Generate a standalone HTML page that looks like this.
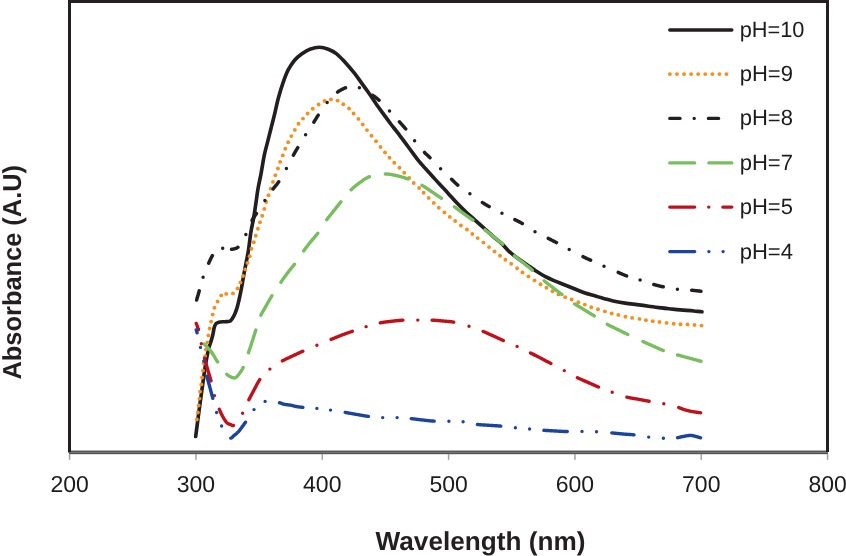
<!DOCTYPE html>
<html><head><meta charset="utf-8"><style>
html,body{margin:0;padding:0;background:#fff;}
svg{display:block;will-change:transform;}
text{text-rendering:geometricPrecision;}
.tk{font-family:"Liberation Sans",sans-serif;font-size:23px;fill:#1e1b1c;}
.lg{font-family:"Liberation Sans",sans-serif;font-size:22px;fill:#1e1b1c;}
.ax{font-family:"Liberation Sans",sans-serif;font-size:26px;font-weight:bold;fill:#231f20;}
</style></head><body>
<svg width="846" height="556" viewBox="0 0 846 556">
<rect width="846" height="556" fill="#fff"/>
<g>
<path d="M195.7,436.5 C196.3,431.8 198.2,416.6 199.4,408.0 C200.6,399.4 201.6,392.0 202.6,385.0 C203.6,378.0 204.3,372.0 205.3,366.0 C206.3,360.0 207.6,353.1 208.5,349.0 C209.4,344.9 210.2,344.1 210.9,341.7 C211.6,339.3 212.4,336.9 212.9,334.5 C213.4,332.1 213.7,329.4 214.2,327.6 C214.7,325.8 215.2,324.5 216.0,323.6 C216.8,322.7 217.7,322.6 218.8,322.3 C219.9,322.0 221.2,321.9 222.5,321.8 C223.8,321.7 225.5,321.8 226.8,321.6 C228.1,321.4 229.3,321.8 230.5,320.8 C231.7,319.8 232.8,317.8 233.9,315.8 C235.0,313.8 236.0,311.2 236.8,308.6 C237.7,306.0 238.2,303.4 239.0,300.0 C239.8,296.6 240.6,293.0 241.5,288.0 C242.4,283.0 243.5,276.3 244.7,270.0 C245.9,263.7 247.5,256.3 248.5,250.0 C249.5,243.7 250.0,237.4 250.9,232.0 C251.8,226.6 252.9,222.4 253.7,217.6 C254.5,212.8 255.2,208.0 255.9,203.2 C256.6,198.4 257.2,193.6 258.0,188.8 C258.8,184.0 259.8,180.1 260.9,174.4 C262.0,168.7 263.2,160.4 264.4,154.7 C265.6,149.0 266.8,145.2 268.0,140.4 C269.2,135.6 270.4,130.8 271.6,126.0 C272.8,121.2 274.1,116.3 275.2,111.6 C276.3,106.8 277.2,102.2 278.5,97.5 C279.8,92.8 281.3,87.7 282.9,83.1 C284.5,78.5 286.3,73.5 288.3,69.7 C290.3,65.9 292.5,62.7 294.8,60.0 C297.1,57.3 299.9,55.3 302.4,53.5 C304.9,51.7 307.1,50.2 309.9,49.2 C312.7,48.2 316.3,47.2 319.4,47.2 C322.5,47.2 325.5,48.1 328.3,49.2 C331.1,50.3 333.8,51.7 336.3,53.6 C338.8,55.5 340.5,57.3 343.5,60.6 C346.5,63.9 351.4,69.5 354.4,73.2 C357.4,77.0 359.2,79.8 361.6,83.1 C364.0,86.4 366.4,89.6 368.8,93.0 C371.2,96.4 373.6,100.3 376.0,103.7 C378.4,107.1 380.8,110.3 383.2,113.6 C385.6,116.9 388.0,120.3 390.4,123.5 C392.8,126.7 394.6,128.7 397.6,132.6 C400.6,136.5 404.7,142.2 408.3,147.0 C411.9,151.8 415.5,157.0 419.1,161.4 C422.7,165.8 426.6,169.8 429.9,173.5 C433.2,177.2 436.0,180.2 439.0,183.5 C442.0,186.8 445.0,189.9 448.0,193.2 C451.0,196.5 454.0,200.0 457.0,203.1 C460.0,206.2 463.0,209.2 466.0,212.0 C469.0,214.8 472.0,217.4 475.0,220.1 C478.0,222.8 481.0,225.5 484.0,228.2 C487.0,230.9 490.0,233.7 493.0,236.3 C496.0,238.9 499.3,241.3 502.0,243.8 C504.7,246.3 506.3,248.9 509.0,251.3 C511.7,253.8 515.0,256.3 518.0,258.5 C521.0,260.7 524.0,262.6 527.0,264.7 C530.0,266.8 533.0,269.1 536.0,271.0 C539.0,272.9 542.0,274.8 545.0,276.4 C548.0,278.0 551.0,279.3 554.0,280.6 C557.0,281.9 560.0,283.0 563.0,284.2 C566.0,285.4 568.4,286.3 571.8,287.7 C575.2,289.1 579.6,291.1 583.6,292.5 C587.6,293.9 592.1,295.0 595.5,296.0 C598.9,297.0 600.8,297.6 603.7,298.4 C606.7,299.2 609.7,300.2 613.2,301.0 C616.8,301.8 621.1,302.5 625.0,303.1 C628.9,303.7 632.8,304.1 636.8,304.6 C640.8,305.1 644.6,305.6 648.7,306.2 C652.8,306.8 657.7,307.4 661.6,307.9 C665.5,308.4 668.8,308.7 672.4,309.1 C676.0,309.5 679.6,309.8 683.2,310.1 C686.8,310.4 690.8,310.7 693.9,311.0 C697.0,311.3 700.6,311.7 702.0,311.8" fill="none" stroke="#231f20" stroke-width="3.65" stroke-linecap="round" stroke-linejoin="round"/>
<g fill="#f68e1e"><circle cx="196.80" cy="419.50" r="1.95"/><circle cx="197.80" cy="412.50" r="1.95"/><circle cx="198.65" cy="405.50" r="1.95"/><circle cx="199.45" cy="398.60" r="1.95"/><circle cx="200.10" cy="391.60" r="1.95"/><circle cx="201.30" cy="384.40" r="1.95"/><circle cx="202.10" cy="377.50" r="1.95"/><circle cx="203.00" cy="370.60" r="1.95"/><circle cx="203.70" cy="363.30" r="1.95"/><circle cx="205.10" cy="356.10" r="1.95"/><circle cx="205.90" cy="349.60" r="1.95"/><circle cx="207.35" cy="342.40" r="1.95"/><circle cx="208.40" cy="335.40" r="1.95"/><circle cx="209.65" cy="328.50" r="1.95"/><circle cx="211.10" cy="321.60" r="1.95"/><circle cx="212.70" cy="314.60" r="1.95"/><circle cx="214.40" cy="307.70" r="1.95"/><circle cx="217.60" cy="301.50" r="1.95"/><circle cx="221.20" cy="295.40" r="1.95"/><circle cx="226.20" cy="293.90" r="1.95"/><circle cx="232.90" cy="293.40" r="1.95"/><circle cx="237.55" cy="288.50" r="1.95"/><circle cx="240.45" cy="282.40" r="1.95"/><circle cx="243.05" cy="276.00" r="1.95"/><circle cx="245.25" cy="269.40" r="1.95"/><circle cx="247.50" cy="262.90" r="1.95"/><circle cx="249.70" cy="256.20" r="1.95"/><circle cx="251.45" cy="248.80" r="1.95"/><circle cx="253.75" cy="242.20" r="1.95"/><circle cx="255.75" cy="235.70" r="1.95"/><circle cx="257.90" cy="228.80" r="1.95"/><circle cx="260.00" cy="222.20" r="1.95"/><circle cx="262.20" cy="215.80" r="1.95"/><circle cx="264.30" cy="208.90" r="1.95"/><circle cx="266.20" cy="202.00" r="1.95"/><circle cx="268.50" cy="195.20" r="1.95"/><circle cx="270.60" cy="188.60" r="1.95"/><circle cx="273.00" cy="181.90" r="1.95"/><circle cx="275.30" cy="175.20" r="1.95"/><circle cx="277.90" cy="168.50" r="1.95"/><circle cx="280.10" cy="161.90" r="1.95"/><circle cx="282.80" cy="155.40" r="1.95"/><circle cx="285.30" cy="148.70" r="1.95"/><circle cx="288.20" cy="142.30" r="1.95"/><circle cx="291.30" cy="136.10" r="1.95"/><circle cx="294.80" cy="129.90" r="1.95"/><circle cx="298.50" cy="123.80" r="1.95"/><circle cx="303.00" cy="118.60" r="1.95"/><circle cx="307.60" cy="113.50" r="1.95"/><circle cx="312.80" cy="108.80" r="1.95"/><circle cx="318.60" cy="104.50" r="1.95"/><circle cx="324.60" cy="100.90" r="1.95"/><circle cx="330.90" cy="99.40" r="1.95"/><circle cx="337.60" cy="100.60" r="1.95"/><circle cx="343.30" cy="104.30" r="1.95"/><circle cx="349.00" cy="108.50" r="1.95"/><circle cx="353.60" cy="113.50" r="1.95"/><circle cx="358.40" cy="118.90" r="1.95"/><circle cx="362.70" cy="124.40" r="1.95"/><circle cx="367.00" cy="130.10" r="1.95"/><circle cx="371.50" cy="135.80" r="1.95"/><circle cx="376.00" cy="141.20" r="1.95"/><circle cx="380.50" cy="147.00" r="1.95"/><circle cx="385.00" cy="152.40" r="1.95"/><circle cx="389.50" cy="157.80" r="1.95"/><circle cx="394.30" cy="162.80" r="1.95"/><circle cx="399.40" cy="167.70" r="1.95"/><circle cx="404.20" cy="172.70" r="1.95"/><circle cx="409.20" cy="177.90" r="1.95"/><circle cx="413.70" cy="183.00" r="1.95"/><circle cx="419.10" cy="188.00" r="1.95"/><circle cx="423.60" cy="192.80" r="1.95"/><circle cx="428.70" cy="197.90" r="1.95"/><circle cx="433.80" cy="202.90" r="1.95"/><circle cx="438.80" cy="207.70" r="1.95"/><circle cx="444.40" cy="212.40" r="1.95"/><circle cx="449.80" cy="216.90" r="1.95"/><circle cx="455.20" cy="221.00" r="1.95"/><circle cx="460.90" cy="225.50" r="1.95"/><circle cx="466.90" cy="229.50" r="1.95"/><circle cx="472.30" cy="234.00" r="1.95"/><circle cx="477.70" cy="238.10" r="1.95"/><circle cx="483.40" cy="242.60" r="1.95"/><circle cx="489.00" cy="247.10" r="1.95"/><circle cx="494.50" cy="251.50" r="1.95"/><circle cx="500.00" cy="255.80" r="1.95"/><circle cx="505.40" cy="259.70" r="1.95"/><circle cx="511.20" cy="263.80" r="1.95"/><circle cx="517.10" cy="268.30" r="1.95"/><circle cx="522.50" cy="272.50" r="1.95"/><circle cx="528.40" cy="276.40" r="1.95"/><circle cx="534.50" cy="280.40" r="1.95"/><circle cx="540.50" cy="284.20" r="1.95"/><circle cx="546.40" cy="287.80" r="1.95"/><circle cx="552.50" cy="291.20" r="1.95"/><circle cx="558.50" cy="294.40" r="1.95"/><circle cx="565.20" cy="297.15" r="1.95"/><circle cx="571.60" cy="299.50" r="1.95"/><circle cx="578.30" cy="302.20" r="1.95"/><circle cx="584.80" cy="304.60" r="1.95"/><circle cx="591.30" cy="307.20" r="1.95"/><circle cx="598.00" cy="309.20" r="1.95"/><circle cx="604.90" cy="311.40" r="1.95"/><circle cx="611.70" cy="313.50" r="1.95"/><circle cx="618.30" cy="314.90" r="1.95"/><circle cx="625.40" cy="316.70" r="1.95"/><circle cx="632.10" cy="317.90" r="1.95"/><circle cx="639.50" cy="318.90" r="1.95"/><circle cx="645.90" cy="320.15" r="1.95"/><circle cx="652.75" cy="321.15" r="1.95"/><circle cx="659.50" cy="322.05" r="1.95"/><circle cx="666.60" cy="322.90" r="1.95"/><circle cx="673.70" cy="323.70" r="1.95"/><circle cx="680.50" cy="324.20" r="1.95"/><circle cx="687.50" cy="324.40" r="1.95"/><circle cx="694.50" cy="325.00" r="1.95"/><circle cx="701.50" cy="325.60" r="1.95"/></g>
<path d="M196.64,299.97 L196.67,299.88 L196.79,299.47 L196.91,299.03 L197.04,298.57 L197.18,298.09 L197.33,297.59 L197.47,297.08 L197.62,296.56 L197.78,296.02 L197.94,295.47 L198.10,294.92 L198.26,294.36 L198.42,293.80 L198.58,293.24 L198.74,292.68 L198.89,292.13 L199.05,291.58 L199.20,291.04 L199.24,290.92 M203.09,277.13 l0.01,0 M208.69,263.20 L208.82,262.90 L209.03,262.44 L209.23,261.98 L209.44,261.53 L209.64,261.08 L209.85,260.63 L210.05,260.19 L210.26,259.76 L210.46,259.33 L210.66,258.91 L210.87,258.49 L211.07,258.09 L211.27,257.69 L211.47,257.30 L211.68,256.93 L211.88,256.56 L212.08,256.20 L212.29,255.86 L212.39,255.69 M222.69,248.31 l0.01,0 M231.59,249.25 L231.94,249.21 L232.30,249.17 L232.67,249.12 L233.04,249.07 L233.41,249.01 L233.78,248.94 L234.15,248.86 L234.53,248.77 L234.90,248.67 L235.27,248.56 L235.64,248.43 L236.01,248.29 L236.37,248.13 L236.73,247.96 L237.09,247.77 L237.45,247.56 L237.79,247.33 L237.91,247.24 M245.84,234.42 l0.01,0 M252.01,220.45 L252.10,220.28 L252.33,219.87 L252.56,219.47 L252.79,219.08 L253.02,218.69 L253.25,218.32 L253.48,217.95 L253.71,217.59 L253.94,217.23 L254.17,216.87 L254.41,216.51 L254.65,216.16 L254.88,215.80 L255.13,215.44 L255.37,215.07 L255.62,214.70 L255.87,214.33 L256.13,213.94 L256.39,213.55 L256.49,213.39 M264.88,200.59 l0.01,0 M273.10,189.00 L273.11,188.98 L273.42,188.58 L273.72,188.19 L274.02,187.80 L274.32,187.42 L274.62,187.05 L274.92,186.68 L275.22,186.31 L275.52,185.94 L275.81,185.58 L276.11,185.21 L276.40,184.85 L276.69,184.48 L276.99,184.11 L277.28,183.73 L277.57,183.35 L277.86,182.97 L278.15,182.58 L278.44,182.18 L278.71,181.80 M286.40,168.60 l0.01,0 M293.43,155.11 L293.48,155.01 L293.72,154.58 L293.96,154.15 L294.20,153.73 L294.43,153.31 L294.67,152.89 L294.91,152.48 L295.14,152.06 L295.38,151.65 L295.62,151.24 L295.86,150.82 L296.10,150.41 L296.34,149.99 L296.59,149.57 L296.84,149.15 L297.09,148.72 L297.34,148.29 L297.60,147.85 L297.74,147.62 M305.60,134.70 l0.01,0 M313.84,122.13 L313.91,122.03 L314.16,121.63 L314.41,121.23 L314.65,120.84 L314.89,120.45 L315.13,120.06 L315.36,119.68 L315.59,119.30 L315.83,118.93 L316.06,118.55 L316.29,118.17 L316.52,117.80 L316.75,117.42 L316.99,117.04 L317.23,116.65 L317.48,116.26 L317.73,115.87 L317.99,115.47 L318.24,115.09 M327.16,102.57 l0.01,0 M337.57,92.08 L337.84,91.89 L338.26,91.59 L338.69,91.31 L339.12,91.03 L339.56,90.76 L340.00,90.50 L340.44,90.24 L340.88,89.99 L341.32,89.75 L341.76,89.51 L342.19,89.28 L342.62,89.07 L343.05,88.85 L343.47,88.65 L343.88,88.45 L344.29,88.26 L344.68,88.08 L345.07,87.91 L345.45,87.74 L345.51,87.72 M359.38,87.64 l0.01,0 M372.61,95.24 L372.78,95.35 L373.19,95.63 L373.58,95.91 L373.98,96.18 L374.36,96.46 L374.74,96.73 L375.11,97.01 L375.48,97.28 L375.84,97.56 L376.20,97.84 L376.56,98.12 L376.91,98.40 L377.27,98.69 L377.62,98.98 L377.97,99.27 L378.32,99.57 L378.68,99.88 L379.04,100.19 L379.06,100.20 M389.50,111.00 l0.01,0 M399.37,121.76 L399.55,121.96 L399.89,122.34 L400.23,122.71 L400.57,123.08 L400.90,123.45 L401.24,123.82 L401.57,124.19 L401.90,124.56 L402.23,124.92 L402.56,125.29 L402.88,125.65 L403.21,126.02 L403.54,126.39 L403.86,126.77 L404.19,127.14 L404.52,127.52 L404.84,127.91 L405.17,128.29 L405.50,128.69 L405.68,128.89 M414.60,140.70 l0.01,0 M424.49,152.45 L424.57,152.54 L424.88,152.85 L425.18,153.15 L425.47,153.45 L425.76,153.73 L426.04,154.00 L426.33,154.27 L426.61,154.53 L426.88,154.79 L427.16,155.05 L427.44,155.31 L427.72,155.56 L428.00,155.82 L428.29,156.09 L428.58,156.35 L428.87,156.63 L429.17,156.91 L429.48,157.20 L429.80,157.51 L429.98,157.68 M440.60,168.70 l0.01,0 M451.64,179.30 L451.80,179.46 L452.14,179.80 L452.48,180.13 L452.81,180.46 L453.13,180.78 L453.45,181.10 L453.77,181.41 L454.08,181.72 L454.39,182.03 L454.70,182.34 L455.01,182.64 L455.32,182.94 L455.64,183.24 L455.96,183.54 L456.28,183.85 L456.62,184.15 L456.95,184.45 L457.30,184.75 L457.66,185.06 L457.80,185.18 M469.90,193.70 l0.01,0 M482.39,202.51 L482.52,202.60 L482.91,202.85 L483.29,203.09 L483.66,203.33 L484.02,203.55 L484.38,203.78 L484.74,204.00 L485.09,204.21 L485.44,204.42 L485.79,204.63 L486.14,204.84 L486.49,205.04 L486.84,205.25 L487.20,205.46 L487.56,205.66 L487.92,205.87 L488.30,206.08 L488.68,206.30 L489.07,206.51 L489.16,206.57 M501.94,213.22 l0.01,0 M514.84,219.63 L514.91,219.66 L515.34,219.87 L515.75,220.08 L516.16,220.29 L516.57,220.49 L516.97,220.69 L517.37,220.89 L517.77,221.09 L518.17,221.29 L518.56,221.49 L518.96,221.69 L519.35,221.89 L519.75,222.10 L520.15,222.31 L520.55,222.53 L520.95,222.75 L521.36,222.97 L521.78,223.20 L522.20,223.44 L522.33,223.52 M535.00,231.80 l0.01,0 M548.26,238.39 L548.48,238.50 L548.93,238.72 L549.37,238.95 L549.81,239.17 L550.25,239.39 L550.68,239.61 L551.11,239.83 L551.53,240.05 L551.96,240.26 L552.38,240.48 L552.80,240.70 L553.23,240.92 L553.65,241.14 L554.08,241.36 L554.51,241.58 L554.94,241.80 L555.37,242.03 L555.80,242.25 L556.25,242.49 L556.45,242.59 M569.20,249.50 l0.01,0 M582.97,256.67 L583.15,256.76 L583.58,256.97 L584.00,257.17 L584.41,257.37 L584.81,257.56 L585.21,257.74 L585.60,257.93 L585.99,258.11 L586.38,258.29 L586.77,258.46 L587.15,258.64 L587.54,258.81 L587.93,258.99 L588.32,259.17 L588.72,259.35 L589.12,259.53 L589.53,259.71 L589.94,259.90 L590.37,260.09 L590.56,260.18 M604.00,266.30 l0.01,0 M618.20,272.41 L618.45,272.51 L618.91,272.71 L619.37,272.91 L619.82,273.10 L620.27,273.30 L620.71,273.49 L621.15,273.67 L621.58,273.86 L622.01,274.04 L622.44,274.23 L622.87,274.41 L623.31,274.58 L623.74,274.76 L624.17,274.94 L624.61,275.11 L625.05,275.28 L625.49,275.46 L625.94,275.63 L626.39,275.80 L626.58,275.86 M640.10,279.90 l0.01,0 M653.85,284.56 L654.11,284.63 L654.61,284.77 L655.10,284.91 L655.59,285.04 L656.08,285.17 L656.57,285.30 L657.06,285.43 L657.55,285.55 L658.04,285.67 L658.53,285.79 L659.01,285.90 L659.50,286.02 L659.99,286.13 L660.48,286.24 L660.97,286.35 L661.47,286.46 L661.97,286.57 L662.47,286.68 L662.97,286.79 L663.23,286.84 M677.40,289.20 l0.01,0 M691.69,290.22 L692.01,290.25 L692.57,290.31 L693.14,290.37 L693.71,290.43 L694.28,290.49 L694.86,290.55 L695.43,290.62 L696.00,290.68 L696.56,290.74 L697.11,290.81 L697.65,290.87 L698.18,290.93 L698.69,290.99 L699.19,291.05 L699.66,291.10 L700.11,291.16 L700.53,291.21 L700.91,291.25" fill="none" stroke="#231f20" stroke-width="3.5" stroke-linecap="round" stroke-linejoin="round"/>
<path d="M204.11,344.02 L204.29,344.20 L204.57,344.47 L204.86,344.76 L205.17,345.06 L205.50,345.38 L205.83,345.71 L206.18,346.06 L206.53,346.41 L206.89,346.78 L207.26,347.15 L207.62,347.54 L207.99,347.93 L208.36,348.32 L208.73,348.73 L209.09,349.13 L209.45,349.54 L209.80,349.96 L210.15,350.37 L210.48,350.78 L210.80,351.20 L211.11,351.62 L211.43,352.06 L211.74,352.51 L212.05,352.97 L212.37,353.44 L212.68,353.92 L212.99,354.42 L213.30,354.91 L213.62,355.42 L213.93,355.93 L214.24,356.44 L214.55,356.96 L214.86,357.48 L215.17,358.00 L215.48,358.52 L215.80,359.04 L216.11,359.56 L216.42,360.07 L216.73,360.58 L217.05,361.08 L217.36,361.57 L217.58,361.92 M226.81,374.23 L226.94,374.35 L227.19,374.57 L227.43,374.78 L227.67,374.98 L227.90,375.17 L228.13,375.35 L228.36,375.51 L228.59,375.67 L228.81,375.81 L229.02,375.95 L229.24,376.08 L229.45,376.20 L229.66,376.32 L229.87,376.43 L230.08,376.53 L230.28,376.64 L230.49,376.73 L230.69,376.83 L230.90,376.92 L231.10,377.01 L231.30,377.10 L231.50,377.19 L231.70,377.27 L231.89,377.36 L232.08,377.44 L232.27,377.51 L232.45,377.58 L232.63,377.65 L232.81,377.71 L232.99,377.76 L233.17,377.81 L233.34,377.85 L233.52,377.89 L233.69,377.91 L233.86,377.93 L234.04,377.95 L234.21,377.95 L234.38,377.94 L234.55,377.93 L234.72,377.90 L234.90,377.86 L235.07,377.81 L235.25,377.75 L235.42,377.68 L235.60,377.60 L235.78,377.50 L235.96,377.39 L236.14,377.27 L236.32,377.13 L236.50,376.98 L236.69,376.81 L236.87,376.64 L237.05,376.46 L237.23,376.26 L237.42,376.06 L237.60,375.85 L237.78,375.64 L237.96,375.42 L238.14,375.19 L238.32,374.96 L238.50,374.72 L238.68,374.48 L238.86,374.24 L239.04,374.00 L239.21,373.76 L239.39,373.52 L239.56,373.28 L239.73,373.04 L239.90,372.80 L240.07,372.57 L240.23,372.34 L240.39,372.11 L240.55,371.89 L240.71,371.67 L240.87,371.44 L241.02,371.22 L241.18,370.99 L241.33,370.76 L241.48,370.53 L241.64,370.29 L241.79,370.05 L241.94,369.80 L242.09,369.54 L242.25,369.27 L242.40,369.00 L242.56,368.71 L242.71,368.41 L242.87,368.09 L243.03,367.77 L243.17,367.49 M248.48,352.69 L248.54,352.50 L248.71,352.01 L248.87,351.52 L249.03,351.04 L249.19,350.56 L249.35,350.08 L249.51,349.61 L249.67,349.14 L249.82,348.67 L249.98,348.20 L250.13,347.73 L250.28,347.26 L250.44,346.80 L250.59,346.33 L250.74,345.86 L250.90,345.39 L251.05,344.91 L251.21,344.44 L251.36,343.96 L251.52,343.48 L251.68,342.99 L251.84,342.50 L252.00,342.00 L252.16,341.50 L252.33,340.99 L252.49,340.49 L252.65,339.98 L252.82,339.46 L252.98,338.95 L253.15,338.43 L253.31,337.91 L253.48,337.39 L253.64,336.87 L253.81,336.35 L253.98,335.82 L254.14,335.30 L254.31,334.77 L254.48,334.25 L254.64,333.72 L254.81,333.19 L254.98,332.66 L255.15,332.13 L255.32,331.61 L255.49,331.08 L255.66,330.55 L255.82,330.04 M260.84,315.37 L260.84,315.36 L261.07,314.89 L261.29,314.43 L261.52,313.97 L261.76,313.52 L261.99,313.07 L262.23,312.62 L262.47,312.18 L262.72,311.73 L262.96,311.29 L263.21,310.86 L263.46,310.42 L263.71,309.98 L263.96,309.54 L264.22,309.11 L264.47,308.67 L264.73,308.23 L264.98,307.79 L265.24,307.35 L265.49,306.90 L265.75,306.45 L266.00,306.00 L266.25,305.55 L266.51,305.09 L266.76,304.64 L267.02,304.19 L267.27,303.73 L267.53,303.28 L267.78,302.83 L268.04,302.37 L268.29,301.92 L268.55,301.47 L268.81,301.01 L269.07,300.56 L269.34,300.10 L269.60,299.64 L269.87,299.19 L270.14,298.73 L270.41,298.27 L270.69,297.80 L270.96,297.34 L271.25,296.88 L271.53,296.41 L271.82,295.94 L271.95,295.73 M280.94,282.23 L281.13,281.94 L281.44,281.50 L281.74,281.05 L282.05,280.61 L282.35,280.18 L282.65,279.74 L282.95,279.31 L283.25,278.88 L283.55,278.46 L283.85,278.03 L284.15,277.61 L284.45,277.19 L284.75,276.76 L285.05,276.34 L285.35,275.93 L285.65,275.51 L285.96,275.09 L286.26,274.67 L286.57,274.25 L286.88,273.84 L287.19,273.42 L287.50,273.00 L287.82,272.58 L288.13,272.17 L288.45,271.76 L288.77,271.35 L289.10,270.95 L289.42,270.55 L289.74,270.15 L290.07,269.75 L290.40,269.35 L290.72,268.95 L291.05,268.55 L291.38,268.16 L291.71,267.76 L292.04,267.36 L292.37,266.96 L292.70,266.55 L293.02,266.15 L293.35,265.74 L293.68,265.32 L294.01,264.91 L294.33,264.49 L294.52,264.24 M303.66,250.95 L303.85,250.69 L304.16,250.26 L304.47,249.83 L304.79,249.41 L305.10,248.99 L305.41,248.57 L305.73,248.15 L306.04,247.74 L306.35,247.32 L306.67,246.91 L306.98,246.50 L307.30,246.09 L307.61,245.68 L307.93,245.27 L308.25,244.87 L308.56,244.46 L308.88,244.05 L309.20,243.64 L309.53,243.23 L309.85,242.82 L310.17,242.41 L310.50,242.00 L310.83,241.59 L311.16,241.18 L311.49,240.78 L311.83,240.37 L312.17,239.97 L312.51,239.58 L312.85,239.18 L313.19,238.78 L313.53,238.39 L313.87,237.99 L314.22,237.59 L314.56,237.19 L314.91,236.79 L315.25,236.39 L315.59,235.99 L315.93,235.59 L316.27,235.18 L316.61,234.76 L316.95,234.35 L317.28,233.93 L317.62,233.50 L317.82,233.24 M326.76,219.65 L326.97,219.36 L327.30,218.92 L327.63,218.48 L327.96,218.04 L328.30,217.61 L328.63,217.18 L328.97,216.75 L329.31,216.33 L329.64,215.90 L329.98,215.48 L330.32,215.06 L330.66,214.64 L331.00,214.22 L331.33,213.81 L331.67,213.39 L332.01,212.98 L332.34,212.56 L332.68,212.15 L333.01,211.74 L333.34,211.32 L333.67,210.91 L334.00,210.50 L334.33,210.09 L334.65,209.68 L334.97,209.28 L335.29,208.87 L335.61,208.47 L335.92,208.08 L336.24,207.68 L336.55,207.29 L336.87,206.89 L337.18,206.50 L337.49,206.11 L337.81,205.71 L338.12,205.32 L338.44,204.93 L338.75,204.53 L339.07,204.14 L339.39,203.74 L339.71,203.34 L340.04,202.94 L340.36,202.54 L340.69,202.13 L340.88,201.91 M351.12,189.79 L351.17,189.74 L351.55,189.37 L351.94,189.00 L352.33,188.64 L352.73,188.28 L353.12,187.93 L353.52,187.58 L353.92,187.24 L354.32,186.90 L354.72,186.56 L355.12,186.22 L355.52,185.90 L355.93,185.57 L356.33,185.25 L356.74,184.93 L357.14,184.61 L357.55,184.30 L357.96,183.99 L358.37,183.69 L358.77,183.39 L359.18,183.09 L359.59,182.79 L360.00,182.50 L360.41,182.21 L360.81,181.92 L361.20,181.63 L361.60,181.34 L361.99,181.06 L362.38,180.78 L362.77,180.50 L363.16,180.22 L363.54,179.95 L363.94,179.68 L364.33,179.42 L364.73,179.16 L365.12,178.90 L365.53,178.65 L365.94,178.41 L366.36,178.17 L366.78,177.93 L367.21,177.71 L367.65,177.49 L368.10,177.27 L368.56,177.07 L369.03,176.87 L369.47,176.70 M385.30,173.98 L385.59,173.98 L386.10,173.99 L386.61,174.01 L387.11,174.04 L387.61,174.07 L388.10,174.11 L388.59,174.16 L389.08,174.22 L389.57,174.28 L390.05,174.35 L390.53,174.42 L391.02,174.50 L391.50,174.59 L391.99,174.67 L392.47,174.77 L392.96,174.86 L393.46,174.96 L393.95,175.06 L394.46,175.17 L394.96,175.28 L395.48,175.39 L396.00,175.50 L396.53,175.62 L397.06,175.74 L397.60,175.86 L398.15,175.99 L398.70,176.13 L399.25,176.27 L399.81,176.42 L400.37,176.57 L400.93,176.73 L401.49,176.88 L402.05,177.05 L402.62,177.21 L403.18,177.38 L403.75,177.55 L404.31,177.73 L404.87,177.91 L405.42,178.09 L405.98,178.27 L406.53,178.45 L407.07,178.64 L407.61,178.83 L407.98,178.96 M422.04,185.33 L422.16,185.39 L422.56,185.63 L422.95,185.86 L423.34,186.09 L423.72,186.32 L424.09,186.56 L424.46,186.79 L424.83,187.03 L425.19,187.27 L425.56,187.51 L425.92,187.75 L426.28,187.99 L426.64,188.23 L427.00,188.47 L427.36,188.72 L427.72,188.97 L428.09,189.22 L428.46,189.47 L428.84,189.72 L429.22,189.98 L429.61,190.24 L430.00,190.50 L430.40,190.76 L430.79,191.03 L431.18,191.29 L431.58,191.55 L431.97,191.82 L432.36,192.08 L432.75,192.35 L433.14,192.62 L433.53,192.89 L433.93,193.16 L434.33,193.44 L434.73,193.71 L435.14,193.99 L435.55,194.27 L435.96,194.56 L436.38,194.85 L436.81,195.14 L437.24,195.44 L437.68,195.74 L438.13,196.04 L438.58,196.35 L439.04,196.66 L439.52,196.98 L440.00,197.30 L440.50,197.63 L441.01,197.97 L441.42,198.24 M454.47,206.84 L454.82,207.09 L455.27,207.41 L455.71,207.73 L456.15,208.05 L456.58,208.36 L457.00,208.67 L457.41,208.97 L457.82,209.28 L458.23,209.58 L458.63,209.88 L459.03,210.18 L459.43,210.48 L459.83,210.78 L460.23,211.08 L460.62,211.38 L461.02,211.68 L461.43,211.98 L461.83,212.28 L462.24,212.58 L462.65,212.88 L463.07,213.19 L463.50,213.50 L463.93,213.81 L464.36,214.12 L464.80,214.43 L465.23,214.74 L465.67,215.05 L466.11,215.35 L466.55,215.66 L466.99,215.97 L467.43,216.28 L467.87,216.59 L468.31,216.90 L468.76,217.21 L469.20,217.52 L469.64,217.83 L470.08,218.14 L470.52,218.45 L470.96,218.77 L471.40,219.08 L471.84,219.40 L472.27,219.71 L472.71,220.03 L472.96,220.22 M485.01,229.91 L485.21,230.07 L485.60,230.39 L486.00,230.70 L486.39,231.02 L486.79,231.33 L487.18,231.64 L487.57,231.96 L487.96,232.27 L488.35,232.58 L488.74,232.89 L489.13,233.20 L489.52,233.51 L489.91,233.82 L490.30,234.13 L490.69,234.45 L491.09,234.76 L491.48,235.08 L491.88,235.40 L492.28,235.72 L492.69,236.04 L493.09,236.37 L493.50,236.70 L493.91,237.03 L494.33,237.36 L494.74,237.69 L495.16,238.02 L495.59,238.36 L496.01,238.69 L496.44,239.02 L496.86,239.36 L497.29,239.69 L497.72,240.03 L498.15,240.37 L498.58,240.71 L499.01,241.05 L499.44,241.39 L499.87,241.74 L500.30,242.09 L500.73,242.44 L501.16,242.80 L501.59,243.15 L502.02,243.52 L502.44,243.88 L502.73,244.13 M514.47,255.76 L514.74,256.00 L515.16,256.36 L515.57,256.71 L515.99,257.05 L516.41,257.40 L516.83,257.74 L517.24,258.07 L517.66,258.41 L518.08,258.74 L518.50,259.07 L518.92,259.40 L519.34,259.72 L519.76,260.05 L520.17,260.37 L520.59,260.70 L521.01,261.02 L521.43,261.35 L521.84,261.68 L522.26,262.00 L522.67,262.33 L523.09,262.67 L523.50,263.00 L523.91,263.33 L524.32,263.67 L524.73,264.00 L525.14,264.33 L525.55,264.66 L525.96,264.98 L526.37,265.31 L526.78,265.64 L527.19,265.96 L527.59,266.29 L528.00,266.62 L528.41,266.94 L528.81,267.27 L529.22,267.60 L529.63,267.93 L530.03,268.26 L530.44,268.60 L530.85,268.93 L531.26,269.27 L531.66,269.61 L532.07,269.95 L532.31,270.16 M544.20,280.83 L544.43,281.03 L544.84,281.36 L545.24,281.69 L545.65,282.02 L546.06,282.34 L546.47,282.67 L546.87,282.99 L547.28,283.31 L547.69,283.62 L548.09,283.94 L548.50,284.25 L548.91,284.56 L549.31,284.88 L549.72,285.19 L550.13,285.50 L550.54,285.81 L550.95,286.12 L551.36,286.44 L551.77,286.75 L552.18,287.07 L552.59,287.38 L553.00,287.70 L553.41,288.02 L553.82,288.34 L554.24,288.65 L554.65,288.97 L555.06,289.28 L555.47,289.60 L555.88,289.91 L556.30,290.23 L556.71,290.54 L557.12,290.86 L557.54,291.17 L557.95,291.49 L558.36,291.80 L558.78,292.12 L559.20,292.43 L559.61,292.75 L560.03,293.06 L560.45,293.38 L560.87,293.70 L561.30,294.02 L561.72,294.34 L561.96,294.52 M574.68,303.93 L574.76,303.98 L575.13,304.23 L575.50,304.46 L575.86,304.70 L576.22,304.92 L576.58,305.14 L576.93,305.36 L577.28,305.57 L577.62,305.78 L577.96,305.99 L578.30,306.19 L578.64,306.39 L578.98,306.59 L579.31,306.79 L579.65,306.99 L579.98,307.18 L580.31,307.38 L580.65,307.58 L580.98,307.78 L581.32,307.99 L581.66,308.19 L582.00,308.40 L582.34,308.61 L582.69,308.82 L583.04,309.04 L583.39,309.25 L583.74,309.47 L584.09,309.68 L584.44,309.90 L584.79,310.11 L585.14,310.33 L585.49,310.54 L585.84,310.76 L586.19,310.97 L586.53,311.18 L586.87,311.39 L587.21,311.59 L587.54,311.80 L587.87,312.00 L588.19,312.19 L588.51,312.39 L588.82,312.58 L589.13,312.77 L589.43,312.95 L589.72,313.13 L590.00,313.30 L590.27,313.46 L590.52,313.62 L590.76,313.76 L590.99,313.90 L591.20,314.03 L591.41,314.15 L591.60,314.27 L591.79,314.38 L591.98,314.49 L592.16,314.60 L592.34,314.70 L592.52,314.81 L592.71,314.92 L592.90,315.04 L593.09,315.15 L593.30,315.28 L593.51,315.41 L593.73,315.55 L593.97,315.69 L594.22,315.85 L594.30,315.90 M607.33,324.34 L607.59,324.48 L608.05,324.73 L608.52,324.98 L608.99,325.23 L609.46,325.47 L609.93,325.71 L610.40,325.94 L610.87,326.18 L611.34,326.41 L611.81,326.64 L612.29,326.87 L612.76,327.10 L613.23,327.33 L613.71,327.56 L614.18,327.79 L614.66,328.01 L615.13,328.24 L615.61,328.47 L616.08,328.70 L616.55,328.93 L617.03,329.17 L617.50,329.40 L617.97,329.63 L618.44,329.87 L618.91,330.10 L619.38,330.33 L619.84,330.57 L620.31,330.80 L620.77,331.03 L621.24,331.26 L621.70,331.49 L622.17,331.72 L622.63,331.95 L623.10,332.18 L623.57,332.41 L624.04,332.64 L624.51,332.88 L624.99,333.11 L625.46,333.34 L625.94,333.57 L626.43,333.81 L626.91,334.04 L627.40,334.28 L627.73,334.44 M642.98,341.54 L643.28,341.67 L643.76,341.89 L644.24,342.11 L644.71,342.32 L645.18,342.53 L645.65,342.74 L646.11,342.95 L646.57,343.15 L647.03,343.36 L647.49,343.56 L647.94,343.77 L648.40,343.97 L648.85,344.17 L649.31,344.37 L649.76,344.57 L650.22,344.77 L650.68,344.98 L651.14,345.18 L651.60,345.38 L652.06,345.59 L652.53,345.79 L653.00,346.00 L653.47,346.21 L653.95,346.42 L654.42,346.63 L654.90,346.85 L655.37,347.07 L655.85,347.28 L656.32,347.50 L656.80,347.72 L657.28,347.94 L657.76,348.15 L658.23,348.37 L658.71,348.59 L659.19,348.80 L659.67,349.02 L660.15,349.23 L660.63,349.44 L661.11,349.64 L661.60,349.85 L662.08,350.05 L662.56,350.25 L663.05,350.44 L663.29,350.54 M677.55,354.96 L677.66,354.99 L678.09,355.11 L678.52,355.23 L678.95,355.35 L679.37,355.46 L679.78,355.57 L680.20,355.69 L680.61,355.80 L681.02,355.91 L681.44,356.02 L681.86,356.13 L682.28,356.24 L682.71,356.36 L683.14,356.47 L683.58,356.59 L684.03,356.71 L684.50,356.83 L684.97,356.96 L685.45,357.08 L685.95,357.22 L686.47,357.36 L687.00,357.50 L687.56,357.65 L688.16,357.81 L688.79,357.98 L689.45,358.16 L690.13,358.35 L690.84,358.54 L691.56,358.73 L692.30,358.93 L693.04,359.13 L693.78,359.33 L694.53,359.53 L695.27,359.73 L696.00,359.93 L696.72,360.12 L697.42,360.31 L698.09,360.49 L698.74,360.67 L699.36,360.84 L699.95,360.99 L700.49,361.14 L700.94,361.26" fill="none" stroke="#78be5f" stroke-width="3.4" stroke-linecap="round" stroke-linejoin="round"/>
<path d="M196.26,323.42 L196.35,323.66 L196.47,323.97 L196.60,324.30 L196.73,324.64 L196.86,325.00 L197.00,325.36 L197.14,325.74 L197.29,326.14 L197.43,326.54 L197.58,326.95 L197.73,327.37 L197.87,327.79 L198.01,328.23 L198.16,328.66 L198.29,329.11 L198.43,329.55 L198.46,329.65 M201.30,343.80 l0.01,0 M204.61,358.26 L204.69,358.55 L204.81,359.06 L204.94,359.56 L205.07,360.06 L205.20,360.56 L205.33,361.06 L205.46,361.55 L205.59,362.04 L205.72,362.53 L205.85,363.02 L205.98,363.51 L206.11,364.00 L206.25,364.49 L206.38,364.98 L206.52,365.47 L206.65,365.96 L206.79,366.46 L206.93,366.96 L207.07,367.47 L207.21,367.97 L207.36,368.48 L207.50,369.00 L207.65,369.52 L207.80,370.04 L207.95,370.56 L208.11,371.09 L208.26,371.61 L208.42,372.14 L208.58,372.67 L208.74,373.20 L208.91,373.74 L209.07,374.27 L209.24,374.81 L209.40,375.34 L209.56,375.88 L209.73,376.42 L209.89,376.96 L210.06,377.51 L210.22,378.05 L210.38,378.60 L210.54,379.14 L210.69,379.69 L210.85,380.24 L211.00,380.79 M214.50,395.60 l0.01,0 M219.32,409.29 L219.45,409.61 L219.60,409.98 L219.76,410.34 L219.91,410.70 L220.06,411.05 L220.21,411.39 L220.36,411.72 L220.51,412.05 L220.66,412.37 L220.80,412.68 L220.95,413.00 L221.10,413.30 L221.25,413.61 L221.40,413.91 L221.55,414.21 L221.71,414.51 L221.86,414.80 L222.02,415.10 L222.18,415.40 L222.34,415.70 L222.50,416.00 L222.67,416.30 L222.83,416.61 L223.00,416.92 L223.18,417.22 L223.35,417.53 L223.52,417.84 L223.70,418.14 L223.88,418.44 L224.06,418.75 L224.23,419.04 L224.41,419.34 L224.59,419.62 L224.77,419.91 L224.95,420.19 L225.13,420.46 L225.31,420.72 L225.49,420.98 L225.67,421.23 L225.84,421.47 L226.02,421.69 L226.19,421.91 L226.36,422.12 L226.53,422.32 L226.70,422.50 L226.87,422.67 L227.03,422.83 L227.19,422.98 L227.35,423.11 L227.51,423.24 L227.67,423.36 L227.83,423.47 L227.99,423.57 L228.14,423.66 L228.30,423.74 L228.45,423.82 L228.61,423.89 L228.76,423.96 L228.92,424.02 L229.07,424.08 L229.23,424.13 L229.38,424.18 L229.54,424.23 L229.70,424.28 L229.85,424.32 L230.01,424.37 L230.17,424.41 L230.34,424.45 L230.50,424.50 L230.66,424.55 L230.82,424.62 L230.97,424.69 L231.12,424.77 L231.27,424.86 L231.41,424.95 L231.56,425.04 L231.70,425.13 L231.84,425.22 L231.99,425.30 L232.14,425.38 L232.29,425.44 L232.44,425.50 L232.60,425.54 L232.76,425.56 L232.93,425.57 L233.11,425.55 L233.29,425.51 L233.49,425.45 L233.53,425.43 M242.60,413.20 l0.01,0 M248.88,399.73 L249.01,399.47 L249.24,399.01 L249.47,398.55 L249.71,398.09 L249.94,397.63 L250.17,397.18 L250.40,396.73 L250.63,396.28 L250.87,395.84 L251.10,395.39 L251.33,394.95 L251.57,394.51 L251.80,394.06 L252.04,393.62 L252.28,393.17 L252.52,392.73 L252.76,392.28 L253.00,391.83 L253.25,391.38 L253.50,390.92 L253.75,390.46 L254.00,390.00 L254.25,389.53 L254.50,389.06 L254.75,388.59 L255.00,388.11 L255.25,387.63 L255.50,387.14 L255.75,386.65 L256.00,386.17 L256.25,385.68 L256.50,385.19 L256.76,384.70 L257.02,384.21 L257.28,383.73 L257.55,383.24 L257.81,382.76 L258.09,382.28 L258.37,381.80 L258.65,381.33 L258.94,380.86 L259.24,380.40 L259.54,379.94 L259.74,379.65 M269.90,369.10 l0.01,0 M282.43,360.86 L282.71,360.71 L283.17,360.46 L283.64,360.21 L284.11,359.97 L284.57,359.74 L285.04,359.50 L285.50,359.27 L285.97,359.05 L286.43,358.83 L286.89,358.61 L287.36,358.39 L287.82,358.17 L288.29,357.96 L288.75,357.74 L289.22,357.53 L289.68,357.31 L290.15,357.10 L290.62,356.88 L291.09,356.66 L291.56,356.44 L292.03,356.22 L292.50,356.00 L292.97,355.78 L293.44,355.55 L293.91,355.33 L294.38,355.11 L294.85,354.88 L295.32,354.66 L295.79,354.44 L296.26,354.22 L296.73,354.00 L297.20,353.78 L297.67,353.56 L298.14,353.34 L298.62,353.12 L299.09,352.91 L299.57,352.69 L300.05,352.47 L300.53,352.25 L301.02,352.03 L301.51,351.81 L302.00,351.59 L302.49,351.37 L302.81,351.22 M316.90,345.30 l0.01,0 M331.10,339.41 L331.46,339.26 L331.97,339.05 L332.49,338.83 L333.00,338.62 L333.51,338.41 L334.02,338.20 L334.53,337.99 L335.03,337.78 L335.53,337.58 L336.04,337.37 L336.54,337.16 L337.04,336.96 L337.54,336.76 L338.04,336.56 L338.53,336.36 L339.03,336.16 L339.53,335.96 L340.02,335.76 L340.52,335.57 L341.01,335.38 L341.51,335.19 L342.00,335.00 L342.49,334.81 L342.98,334.63 L343.47,334.45 L343.95,334.27 L344.44,334.10 L344.92,333.92 L345.40,333.75 L345.87,333.58 L346.35,333.41 L346.83,333.24 L347.30,333.07 L347.78,332.91 L348.26,332.74 L348.74,332.57 L349.21,332.41 L349.69,332.24 L350.17,332.08 L350.66,331.91 L351.14,331.75 L351.63,331.58 L352.12,331.41 L352.37,331.32 M366.09,326.67 l0.01,0 M380.27,322.84 L380.59,322.78 L381.11,322.69 L381.63,322.60 L382.16,322.51 L382.68,322.43 L383.20,322.34 L383.72,322.27 L384.23,322.19 L384.75,322.12 L385.27,322.05 L385.79,321.98 L386.30,321.92 L386.82,321.85 L387.34,321.79 L387.85,321.73 L388.37,321.67 L388.89,321.60 L389.41,321.54 L389.93,321.48 L390.45,321.42 L390.98,321.36 L391.50,321.30 L392.02,321.24 L392.55,321.18 L393.07,321.11 L393.59,321.05 L394.12,320.99 L394.64,320.93 L395.16,320.87 L395.69,320.81 L396.21,320.75 L396.73,320.70 L397.26,320.64 L397.78,320.59 L398.31,320.54 L398.83,320.48 L399.36,320.44 L399.89,320.39 L400.42,320.34 L400.96,320.30 L401.49,320.26 L402.03,320.22 L402.57,320.19 L402.90,320.17 M417.80,320.10 l0.01,0 M432.10,320.15 L432.36,320.17 L432.88,320.19 L433.40,320.22 L433.91,320.25 L434.42,320.28 L434.93,320.31 L435.44,320.35 L435.95,320.39 L436.46,320.42 L436.96,320.46 L437.47,320.50 L437.97,320.54 L438.47,320.59 L438.98,320.63 L439.48,320.67 L439.98,320.72 L440.49,320.76 L440.99,320.81 L441.49,320.86 L441.99,320.90 L442.50,320.95 L443.00,321.00 L443.50,321.05 L444.00,321.09 L444.50,321.13 L444.99,321.18 L445.48,321.22 L445.97,321.26 L446.45,321.30 L446.94,321.34 L447.43,321.38 L447.91,321.42 L448.40,321.47 L448.89,321.51 L449.38,321.56 L449.87,321.61 L450.36,321.67 L450.86,321.73 L451.36,321.79 L451.86,321.86 L452.37,321.94 L452.89,322.02 L453.41,322.10 L453.72,322.16 M469.00,326.30 l0.01,0 M483.11,331.39 L483.37,331.50 L483.85,331.70 L484.32,331.90 L484.79,332.10 L485.26,332.30 L485.72,332.50 L486.18,332.70 L486.63,332.91 L487.09,333.11 L487.54,333.31 L487.99,333.52 L488.44,333.72 L488.89,333.93 L489.34,334.13 L489.79,334.34 L490.24,334.55 L490.69,334.75 L491.15,334.96 L491.61,335.17 L492.07,335.38 L492.53,335.59 L493.00,335.80 L493.47,336.01 L493.94,336.22 L494.41,336.43 L494.88,336.65 L495.35,336.86 L495.82,337.07 L496.29,337.29 L496.76,337.50 L497.23,337.72 L497.71,337.94 L498.18,338.15 L498.66,338.37 L499.13,338.59 L499.61,338.80 L500.09,339.02 L500.57,339.24 L501.05,339.46 L501.54,339.68 L502.03,339.90 L502.52,340.12 L503.01,340.34 L503.31,340.47 M517.10,346.40 l0.01,0 M530.56,352.98 L530.89,353.14 L531.38,353.39 L531.87,353.64 L532.36,353.88 L532.85,354.13 L533.34,354.38 L533.83,354.62 L534.31,354.87 L534.80,355.12 L535.28,355.36 L535.76,355.61 L536.24,355.85 L536.72,356.10 L537.20,356.34 L537.68,356.59 L538.16,356.83 L538.63,357.08 L539.11,357.32 L539.58,357.57 L540.06,357.81 L540.53,358.06 L541.00,358.30 L541.47,358.54 L541.93,358.78 L542.39,359.03 L542.85,359.26 L543.31,359.50 L543.76,359.74 L544.21,359.98 L544.66,360.21 L545.11,360.45 L545.56,360.69 L546.01,360.93 L546.46,361.16 L546.91,361.40 L547.35,361.64 L547.81,361.88 L548.26,362.12 L548.71,362.36 L549.17,362.60 L549.63,362.85 L550.10,363.09 L550.57,363.34 L550.85,363.49 M564.30,370.60 l0.01,0 M577.37,377.67 L577.86,377.90 L578.44,378.17 L579.02,378.45 L579.61,378.72 L580.21,378.99 L580.81,379.26 L581.42,379.53 L582.02,379.81 L582.63,380.08 L583.24,380.34 L583.84,380.61 L584.44,380.87 L585.04,381.13 L585.63,381.39 L586.22,381.65 L586.79,381.90 L587.36,382.14 L587.92,382.39 L588.46,382.62 L588.99,382.85 L589.50,383.08 L590.00,383.30 L590.48,383.51 L590.94,383.72 L591.39,383.92 L591.82,384.11 L592.24,384.30 L592.65,384.48 L593.04,384.66 L593.43,384.83 L593.81,385.00 L594.19,385.17 L594.56,385.33 L594.93,385.49 L595.30,385.66 L595.67,385.82 L596.04,385.98 L596.41,386.14 L596.79,386.30 L597.17,386.46 L597.57,386.63 L597.97,386.79 L598.38,386.96 L598.50,387.01 M612.20,392.20 l0.01,0 M626.86,397.12 L627.20,397.21 L627.72,397.33 L628.25,397.45 L628.77,397.56 L629.29,397.66 L629.81,397.77 L630.32,397.87 L630.84,397.96 L631.35,398.05 L631.86,398.14 L632.37,398.23 L632.88,398.32 L633.39,398.40 L633.90,398.49 L634.41,398.57 L634.92,398.66 L635.43,398.74 L635.94,398.83 L636.46,398.92 L636.97,399.01 L637.48,399.10 L638.00,399.20 L638.52,399.30 L639.03,399.40 L639.54,399.49 L640.06,399.59 L640.57,399.69 L641.08,399.78 L641.59,399.88 L642.10,399.98 L642.61,400.07 L643.12,400.17 L643.63,400.27 L644.14,400.36 L644.65,400.46 L645.16,400.55 L645.68,400.65 L646.19,400.74 L646.71,400.84 L647.23,400.93 L647.75,401.03 L648.28,401.12 L648.80,401.22 L649.12,401.27 M663.80,403.70 l0.01,0 M678.75,407.61 L679.01,407.70 L679.37,407.82 L679.71,407.93 L680.05,408.05 L680.37,408.17 L680.68,408.28 L680.98,408.39 L681.27,408.50 L681.56,408.61 L681.84,408.72 L682.11,408.83 L682.38,408.93 L682.66,409.03 L682.93,409.13 L683.20,409.23 L683.47,409.33 L683.74,409.43 L684.02,409.52 L684.31,409.62 L684.60,409.71 L684.90,409.80 L685.20,409.89 L685.50,409.97 L685.79,410.06 L686.07,410.14 L686.36,410.22 L686.64,410.29 L686.91,410.37 L687.19,410.44 L687.46,410.51 L687.74,410.58 L688.02,410.65 L688.29,410.72 L688.57,410.79 L688.86,410.85 L689.14,410.92 L689.43,410.98 L689.73,411.05 L690.03,411.11 L690.34,411.17 L690.65,411.24 L690.98,411.30 L691.31,411.37 L691.65,411.43 L692.00,411.50 L692.37,411.57 L692.76,411.64 L693.18,411.71 L693.61,411.78 L694.07,411.85 L694.53,411.92 L695.01,412.00 L695.49,412.07 L695.98,412.14 L696.47,412.22 L696.96,412.29 L697.44,412.36 L697.92,412.42 L698.40,412.49 L698.85,412.56 L699.30,412.62 L699.73,412.68 L700.14,412.74 L700.52,412.79 L700.71,412.82" fill="none" stroke="#c01019" stroke-width="3.4" stroke-linecap="round" stroke-linejoin="round"/>
<path d="M196.27,329.95 L196.28,329.98 L196.34,330.17 L196.40,330.36 L196.46,330.57 L196.52,330.79 L196.59,331.02 L196.65,331.26 L196.73,331.51 L196.80,331.78 L196.88,332.07 L196.96,332.37 L197.04,332.68 L197.08,332.84 M200.51,347.42 l0.01,0 M203.80,361.00 l0.01,0 M206.80,376.16 L206.88,376.50 L207.02,377.02 L207.15,377.53 L207.28,378.04 L207.42,378.55 L207.56,379.05 L207.69,379.55 L207.83,380.05 L207.97,380.54 L208.11,381.04 L208.25,381.53 L208.39,382.02 L208.54,382.51 L208.68,383.00 L208.82,383.50 L208.96,383.99 L209.10,384.48 L209.24,384.98 L209.38,385.48 L209.52,385.98 L209.66,386.49 L209.80,387.00 L209.94,387.51 L210.07,388.03 L210.21,388.54 L210.35,389.05 L210.48,389.57 L210.62,390.09 L210.76,390.60 L210.89,391.12 L211.03,391.64 L211.16,392.15 L211.30,392.67 L211.44,393.19 L211.57,393.71 L211.71,394.24 L211.85,394.76 L211.99,395.28 L212.12,395.81 L212.26,396.33 L212.40,396.86 L212.54,397.38 L212.68,397.91 L212.77,398.24 M216.60,412.50 l0.01,0 M221.60,426.00 l0.01,0 M230.78,438.08 L230.96,438.07 L231.15,438.04 L231.34,437.97 L231.52,437.88 L231.70,437.77 L231.87,437.64 L232.04,437.50 L232.20,437.34 L232.36,437.18 L232.52,437.00 L232.68,436.82 L232.84,436.64 L233.00,436.45 L233.16,436.27 L233.32,436.10 L233.48,435.93 L233.65,435.77 L233.82,435.63 L234.00,435.50 L234.18,435.38 L234.36,435.26 L234.54,435.13 L234.72,435.00 L234.89,434.87 L235.07,434.74 L235.25,434.60 L235.43,434.46 L235.61,434.32 L235.78,434.17 L235.96,434.02 L236.14,433.88 L236.31,433.72 L236.49,433.57 L236.66,433.41 L236.84,433.25 L237.01,433.09 L237.18,432.93 L237.35,432.76 L237.53,432.59 L237.70,432.42 L237.86,432.25 L238.03,432.08 L238.20,431.90 L238.37,431.72 L238.53,431.54 L238.69,431.36 L238.85,431.17 L239.01,430.98 L239.17,430.79 L239.33,430.60 L239.48,430.40 L239.64,430.20 L239.79,430.00 L239.95,429.80 L240.10,429.59 L240.25,429.39 L240.41,429.18 L240.56,428.97 L240.72,428.76 L240.87,428.54 L241.03,428.33 L241.19,428.11 L241.35,427.89 L241.51,427.67 L241.67,427.45 L241.83,427.22 L242.00,427.00 L242.16,426.78 L242.32,426.56 L242.48,426.35 L242.64,426.14 L242.79,425.93 L242.94,425.73 L243.09,425.52 L243.24,425.31 L243.39,425.11 L243.54,424.90 L243.69,424.68 L243.85,424.46 L244.01,424.24 L244.17,424.01 L244.34,423.77 L244.52,423.52 L244.70,423.26 L244.89,422.99 L245.08,422.71 L245.29,422.42 L245.46,422.17 M254.00,409.60 l0.01,0 M265.10,401.40 l0.01,0 M279.58,402.74 L279.69,402.77 L279.99,402.84 L280.26,402.92 L280.52,403.00 L280.76,403.08 L280.99,403.16 L281.22,403.24 L281.43,403.32 L281.63,403.41 L281.83,403.49 L282.03,403.57 L282.22,403.65 L282.41,403.73 L282.61,403.81 L282.81,403.89 L283.02,403.97 L283.23,404.04 L283.45,404.11 L283.69,404.18 L283.94,404.24 L284.20,404.30 L284.47,404.36 L284.76,404.41 L285.05,404.46 L285.34,404.51 L285.64,404.56 L285.95,404.60 L286.26,404.64 L286.57,404.69 L286.88,404.72 L287.19,404.76 L287.51,404.80 L287.83,404.84 L288.14,404.87 L288.45,404.91 L288.76,404.95 L289.07,404.98 L289.37,405.02 L289.67,405.05 L289.96,405.09 L290.24,405.13 L290.52,405.17 L290.79,405.21 L291.05,405.26 L291.30,405.30 L291.54,405.35 L291.77,405.39 L291.98,405.44 L292.19,405.49 L292.39,405.54 L292.58,405.59 L292.77,405.64 L292.94,405.70 L293.12,405.75 L293.29,405.80 L293.46,405.85 L293.63,405.91 L293.80,405.96 L293.97,406.01 L294.15,406.06 L294.32,406.11 L294.50,406.17 L294.69,406.22 L294.89,406.27 L295.09,406.32 L295.30,406.36 L295.52,406.41 L295.75,406.46 L296.00,406.50 L296.25,406.54 L296.50,406.59 L296.75,406.63 L297.01,406.67 L297.26,406.71 L297.52,406.74 L297.78,406.78 L298.04,406.82 L298.31,406.86 L298.58,406.89 L298.86,406.93 L299.15,406.96 L299.44,407.00 L299.75,407.03 L300.06,407.07 L300.38,407.10 L300.71,407.14 L301.06,407.17 L301.41,407.21 L301.78,407.25 L302.16,407.28 L302.56,407.32 L302.90,407.35 M316.90,408.40 l0.01,0 M330.50,410.10 l0.01,0 M345.18,412.42 L345.55,412.48 L346.10,412.57 L346.65,412.67 L347.20,412.77 L347.75,412.86 L348.29,412.96 L348.84,413.06 L349.38,413.15 L349.93,413.25 L350.47,413.35 L351.02,413.45 L351.56,413.55 L352.11,413.64 L352.65,413.74 L353.20,413.84 L353.74,413.93 L354.28,414.03 L354.83,414.13 L355.37,414.22 L355.91,414.31 L356.46,414.41 L357.00,414.50 L357.54,414.59 L358.09,414.69 L358.63,414.78 L359.18,414.87 L359.72,414.97 L360.26,415.06 L360.81,415.16 L361.35,415.26 L361.90,415.35 L362.44,415.44 L362.98,415.54 L363.53,415.63 L364.07,415.72 L364.61,415.81 L365.15,415.90 L365.69,415.99 L366.23,416.07 L366.77,416.16 L367.31,416.24 L367.85,416.32 L368.39,416.39 L368.46,416.40 M382.70,417.60 l0.01,0 M397.10,417.60 l0.01,0 M411.22,418.63 L411.48,418.66 L412.01,418.72 L412.53,418.78 L413.05,418.84 L413.58,418.90 L414.10,418.97 L414.62,419.03 L415.14,419.10 L415.67,419.16 L416.19,419.23 L416.71,419.30 L417.23,419.37 L417.75,419.43 L418.28,419.50 L418.80,419.57 L419.33,419.63 L419.85,419.70 L420.38,419.76 L420.91,419.82 L421.44,419.88 L421.97,419.94 L422.50,420.00 L423.03,420.06 L423.57,420.11 L424.10,420.17 L424.64,420.23 L425.18,420.29 L425.71,420.35 L426.25,420.41 L426.79,420.47 L427.33,420.52 L427.87,420.58 L428.41,420.64 L428.95,420.69 L429.49,420.75 L430.03,420.80 L430.58,420.85 L431.12,420.90 L431.67,420.95 L432.21,420.99 L432.76,421.03 L433.31,421.07 L433.85,421.11 L434.20,421.13 M448.90,421.20 l0.01,0 M463.10,421.70 l0.01,0 M477.39,424.46 L477.72,424.50 L478.25,424.56 L478.79,424.61 L479.33,424.66 L479.86,424.71 L480.40,424.76 L480.94,424.80 L481.47,424.84 L482.01,424.87 L482.54,424.91 L483.08,424.94 L483.62,424.97 L484.15,425.00 L484.69,425.03 L485.23,425.06 L485.76,425.09 L486.30,425.13 L486.84,425.16 L487.38,425.19 L487.92,425.23 L488.46,425.26 L489.00,425.30 L489.54,425.34 L490.08,425.38 L490.63,425.41 L491.17,425.45 L491.71,425.48 L492.26,425.52 L492.80,425.55 L493.34,425.58 L493.89,425.61 L494.43,425.65 L494.98,425.68 L495.53,425.71 L496.07,425.75 L496.62,425.78 L497.16,425.82 L497.71,425.85 L498.26,425.89 L498.81,425.93 L499.35,425.97 L499.90,426.01 L500.45,426.05 L500.81,426.08 M515.40,427.80 l0.01,0 M529.60,429.00 l0.01,0 M543.90,430.30 L544.22,430.32 L544.77,430.36 L545.31,430.40 L545.85,430.43 L546.39,430.47 L546.93,430.50 L547.48,430.54 L548.02,430.57 L548.56,430.60 L549.10,430.64 L549.64,430.67 L550.18,430.70 L550.73,430.73 L551.27,430.76 L551.81,430.79 L552.35,430.82 L552.89,430.85 L553.43,430.88 L553.98,430.91 L554.52,430.94 L555.06,430.97 L555.60,431.00 L556.14,431.03 L556.68,431.06 L557.22,431.09 L557.76,431.12 L558.30,431.15 L558.84,431.18 L559.38,431.21 L559.92,431.24 L560.46,431.27 L561.00,431.30 L561.54,431.33 L562.08,431.36 L562.61,431.39 L563.15,431.42 L563.70,431.44 L564.24,431.47 L564.78,431.49 L565.32,431.51 L565.87,431.53 L566.41,431.55 L566.96,431.56 L567.30,431.57 M582.00,431.40 l0.01,0 M596.50,431.70 l0.01,0 M611.79,432.92 L612.14,432.95 L612.67,433.00 L613.21,433.05 L613.74,433.10 L614.26,433.15 L614.79,433.20 L615.31,433.25 L615.82,433.30 L616.34,433.35 L616.86,433.41 L617.37,433.46 L617.88,433.51 L618.39,433.56 L618.90,433.61 L619.41,433.66 L619.92,433.71 L620.43,433.76 L620.95,433.81 L621.46,433.86 L621.97,433.91 L622.48,433.95 L623.00,434.00 L623.52,434.04 L624.03,434.09 L624.54,434.13 L625.05,434.17 L625.56,434.20 L626.06,434.24 L626.57,434.27 L627.07,434.31 L627.58,434.34 L628.08,434.38 L628.59,434.41 L629.09,434.44 L629.60,434.48 L630.11,434.52 L630.62,434.55 L631.13,434.59 L631.64,434.63 L632.15,434.68 L632.67,434.72 L633.19,434.77 L633.71,434.82 L634.01,434.85 M648.70,437.10 l0.01,0 M663.40,438.20 l0.01,0 M677.59,437.66 L677.77,437.63 L678.09,437.58 L678.39,437.53 L678.69,437.48 L678.97,437.43 L679.24,437.37 L679.50,437.31 L679.75,437.25 L679.99,437.19 L680.23,437.13 L680.47,437.07 L680.71,437.01 L680.94,436.95 L681.18,436.89 L681.42,436.83 L681.66,436.77 L681.91,436.72 L682.17,436.66 L682.44,436.60 L682.71,436.55 L683.00,436.50 L683.30,436.45 L683.60,436.39 L683.90,436.34 L684.21,436.28 L684.53,436.22 L684.84,436.16 L685.16,436.10 L685.48,436.04 L685.80,435.98 L686.12,435.92 L686.45,435.86 L686.77,435.80 L687.09,435.74 L687.41,435.69 L687.73,435.64 L688.04,435.60 L688.35,435.55 L688.66,435.52 L688.96,435.48 L689.26,435.45 L689.56,435.43 L689.84,435.41 L690.13,435.40 L690.40,435.40 L690.67,435.40 L690.93,435.41 L691.18,435.43 L691.44,435.45 L691.68,435.48 L691.92,435.51 L692.16,435.54 L692.39,435.58 L692.62,435.62 L692.85,435.67 L693.08,435.72 L693.30,435.77 L693.52,435.83 L693.74,435.89 L693.96,435.95 L694.19,436.01 L694.41,436.07 L694.63,436.13 L694.85,436.19 L695.08,436.26 L695.30,436.32 L695.53,436.38 L695.76,436.44 L696.00,436.50 L696.24,436.56 L696.49,436.63 L696.76,436.70 L697.02,436.77 L697.29,436.84 L697.57,436.92 L697.85,437.00 L698.13,437.09 L698.42,437.17 L698.70,437.25 L698.97,437.34 L699.25,437.42 L699.52,437.50 L699.78,437.58 L700.04,437.66 L700.29,437.74 L700.53,437.81 L700.56,437.82" fill="none" stroke="#1a449e" stroke-width="3.4" stroke-linecap="round" stroke-linejoin="round"/>
</g>
<!-- frame -->
<rect x="69" y="450" width="759" height="1" fill="#b0b0b0"/>
<rect x="69" y="451" width="759" height="1" fill="#585858"/>
<rect x="69" y="452" width="759" height="1" fill="#757575"/>
<rect x="69" y="453" width="759" height="1" fill="#505050"/>
<rect x="69" y="454" width="759" height="1" fill="#e0e0e0"/>
<rect x="68" y="0" width="761" height="3" fill="#231f20"/>
<rect x="68" y="0" width="3" height="452" fill="#231f20"/>
<rect x="68" y="452" width="1.5" height="0.6" fill="#231f20"/>
<rect x="826" y="0" width="3" height="452" fill="#231f20"/>
<rect x="68.85" y="454" width="1.5" height="5.8" fill="#9ea2a8"/>
<text x="69.60" y="492" class="tk" text-anchor="middle">200</text>
<rect x="195.18" y="454" width="1.5" height="5.8" fill="#9ea2a8"/>
<text x="195.93" y="492" class="tk" text-anchor="middle">300</text>
<rect x="321.52" y="454" width="1.5" height="5.8" fill="#9ea2a8"/>
<text x="322.27" y="492" class="tk" text-anchor="middle">400</text>
<rect x="447.85" y="454" width="1.5" height="5.8" fill="#9ea2a8"/>
<text x="448.60" y="492" class="tk" text-anchor="middle">500</text>
<rect x="574.18" y="454" width="1.5" height="5.8" fill="#9ea2a8"/>
<text x="574.93" y="492" class="tk" text-anchor="middle">600</text>
<rect x="700.51" y="454" width="1.5" height="5.8" fill="#9ea2a8"/>
<text x="701.26" y="492" class="tk" text-anchor="middle">700</text>
<rect x="826.85" y="454" width="1.5" height="5.8" fill="#9ea2a8"/>
<text x="827.60" y="492" class="tk" text-anchor="middle">800</text>
<path d="M669.8,29.9H731.8" stroke="#231f20" stroke-width="3.5" stroke-linecap="round"/>
<text x="739.7" y="36.9" class="lg" textLength="64.8" lengthAdjust="spacingAndGlyphs">pH=10</text>
<path d="M669.9,74.1H726.5" stroke="#f68e1e" stroke-width="3.9" stroke-linecap="round" stroke-dasharray="0 7.07"/>
<text x="739.7" y="81.1" class="lg">pH=9</text>
<path d="M669.8,118.4H731.8" stroke="#231f20" stroke-width="3.4" stroke-linecap="round" stroke-dasharray="10.2 14.2 0 14.2"/>
<text x="739.7" y="125.4" class="lg">pH=8</text>
<path d="M669.8,162.9H731.8" stroke="#78be5f" stroke-width="3.4" stroke-linecap="round" stroke-dasharray="24.8 14.3"/>
<text x="739.7" y="169.9" class="lg">pH=7</text>
<path d="M669.8,207.1H731.8" stroke="#c01019" stroke-width="3.4" stroke-linecap="round" stroke-dasharray="24.8 14.15 0 14.15"/>
<text x="739.7" y="214.1" class="lg">pH=5</text>
<path d="M669.8,251.6H731.8" stroke="#1a449e" stroke-width="3.4" stroke-linecap="round" stroke-dasharray="24.9 14.2 0 14.2 0 14.2"/>
<text x="739.7" y="258.6" class="lg">pH=4</text>
<text x="375.5" y="549.6" class="ax" textLength="210" lengthAdjust="spacingAndGlyphs">Wavelength (nm)</text>
<text transform="translate(21,379.5) rotate(-90)" x="0" y="0" class="ax" textLength="214.5" lengthAdjust="spacingAndGlyphs">Absorbance (A.U)</text>
</svg>
</body></html>
